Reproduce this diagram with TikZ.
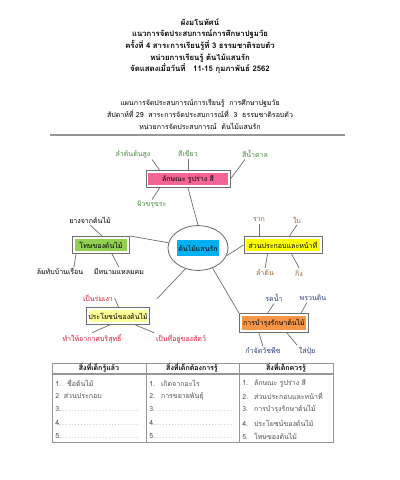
\documentclass[tikz,border=0pt]{standalone}
\usepackage{fontspec}
\setmainfont[Script=Thai]{Loma}
\usepackage{tikz}
\usetikzlibrary{shapes.geometric, positioning}
\definecolor{mypink}{RGB}{245,100,150}
\definecolor{mygreen}{RGB}{146,208,80}
\definecolor{myyellow}{RGB}{255,255,0}
\definecolor{mylight}{RGB}{255,255,153}
\definecolor{myorange}{RGB}{247,150,70}
\definecolor{myblue}{RGB}{0,176,240}
\definecolor{txtgreen}{RGB}{70,140,60}
\definecolor{txtbrown}{RGB}{150,100,50}
\definecolor{txtred}{RGB}{215,25,55}
\definecolor{txtnavy}{RGB}{40,60,120}
\definecolor{framegray}{RGB}{110,110,110}
\definecolor{tablegray}{RGB}{150,150,150}
\definecolor{celltext}{RGB}{80,80,80}
\newcommand\mapfont{\fontsize{5}{6}\selectfont}
\newcommand\celldots{{\color{tablegray}\dotfill}}
\tikzset{
  topicbox/.style={rectangle, draw=framegray, fill=white, line width=0.6pt,
    minimum height=0.43cm, inner sep=1pt, font=\mapfont,
    path picture={\fill[#1] ([shift={(1.6pt,1.6pt)}]path picture bounding box.south west)
      rectangle ([shift={(-1.6pt,-1.6pt)}]path picture bounding box.north east);}},
  leaf/.style={font=\mapfont, inner sep=1pt},
  twig/.style={draw=framegray, line width=0.5pt},
  heading/.style={align=center, font=\fontsize{5.5}{8.3}\selectfont\bfseries},
  subheading/.style={align=center, font=\fontsize{5}{8.5}\selectfont},
  cell/.style={anchor=west, font=\mapfont, text=celltext, inner sep=0pt,
    text width=2.1cm, align=left}
}

\begin{document}
\begin{tikzpicture}[x=0.025cm, y=-0.025cm]
  \useasboundingbox (0,0) rectangle (400,480);

  % heading
  \node[heading] (title) at (200,46) {ผังมโนทัศน์\\
    แนวการจัดประสบการณ์การศึกษาปฐมวัย\\
    ครั้งที่ 4 สาระการเรียนรู้ที่ 3 ธรรมชาติรอบตัว\\
    หน่วยการเรียนรู้  ต้นไม้แสนรัก\\
    จัดแสดงเมื่อวันที่ \ \ 11-15  กุมภาพันธ์ 2562};
  \node[subheading] (plan) at (200,114) {แผนการจัดประสบการณ์การเรียนรู้ \ การศึกษาปฐมวัย\\
    สัปดาห์ที่ 29 \ สาระการจัดประสบการณ์ที่ \ 3 \ ธรรมชาติรอบตัว\\
    หน่วยการจัดประสบการณ์ \ ต้นไม้แสนรัก};
  \draw[tablegray, line width=1pt] (50,135) -- (345,135);

  % centre
  \node[ellipse, draw=framegray, line width=0.6pt, minimum width=1.5cm,
    minimum height=1.12cm] (hub) at (198,248) {};
  \node[fill=myblue, minimum width=0.95cm, minimum height=0.42cm, inner sep=1pt,
    font=\mapfont] (hubtext) at (hub) {ต้นไม้แสนรัก};

  % topics
  \node[topicbox=mypink, minimum width=2.1cm] (charbox) at (188,179) {ลักษณะ รูปร่าง สี};
  \node[topicbox=mygreen, minimum width=1.43cm] (harmbox) at (101,245) {โทษของต้นไม้};
  \node[topicbox=myyellow, minimum width=1.95cm] (partbox) at (283,245) {ส่วนประกอบและหน้าที่};
  \node[topicbox=mylight, minimum width=1.53cm] (usebox) at (118,316) {ประโยชน์ของต้นไม้};
  \node[topicbox=myorange, minimum width=1.73cm, minimum height=0.48cm] (carebox) at (274,323) {การบำรุงรักษาต้นไม้};

  \draw[twig] (charbox.south) -- (hub.north);
  \draw[twig] (harmbox.north east) -- (hub);
  \draw[twig] (hub.-15) -- (partbox.west);
  \draw[twig] (hub.239) -- ([shift={(0.18cm,0.2cm)}]usebox.north east);
  \draw[twig] (hub.-54) -- (carebox.north west);

  % look
  \node[leaf, text=txtgreen] (lblstem) at (133,154) {ลำต้นต้นสูง};
  \node[leaf, text=txtgreen] (lblgreen) at (188,154) {สีเขียว};
  \node[leaf, text=txtgreen] (lblbrown) at (255,154) {สีน้ำตาล};
  \node[leaf, text=txtgreen] (lblrough) at (152,205) {ผิวขรุขระ};
  \draw[twig] (lblstem.south east) -- ([xshift=0.35cm]charbox.north west);
  \draw[twig] (lblgreen.south) -- (charbox.north);
  \draw[twig] ([xshift=-0.25cm]lblbrown.south) -- (charbox.east);
  \draw[twig] (lblrough.north) -- ([xshift=0.35cm]charbox.south west);

  % harm
  \node[leaf] (lblsap) at (90,220) {ยางจากต้นไม้};
  \node[leaf] (lblfall) at (60,272) {ล้มทับบ้านเรือน};
  \node[leaf] (lblthorn) at (119,272) {มีหนามแหลมคม};
  \draw[twig] (lblsap.south) -- ([xshift=0.75cm]harmbox.north west);
  \draw[twig] ([xshift=0.35cm]lblfall.north) -- ([xshift=0.1cm]harmbox.south west);
  \draw[twig] (lblthorn.north) -- ([xshift=1cm]harmbox.south west);

  % parts
  \node[leaf, text=txtbrown] (lblroot) at (259,220) {ราก};
  \node[leaf, text=txtbrown] (lblleaf) at (297,220) {ใบ};
  \node[leaf, text=txtbrown] (lbltrunk) at (265,273) {ลำต้น};
  \node[leaf, text=txtbrown] (lblbranch) at (299,273) {กิ่ง};
  \draw[twig] (lblroot.south) -- (lblroot.south |- partbox.north);
  \draw[twig] (lblleaf.south) -- ([xshift=1.15cm]partbox.north west);
  \draw[twig] (lbltrunk.north) -- ([xshift=0.6cm]partbox.south west);
  \draw[twig] (lblbranch.north) -- ([xshift=1.2cm]partbox.south west);

  % use
  \node[leaf, text=txtred] (lblshade) at (98,298) {เป็นร่มเงา};
  \node[leaf, text=txtred] (lblair) at (92,339) {ทำให้อากาศบริสุทธิ์};
  \node[leaf, text=txtred] (lblhome) at (181,339) {เป็นที่อยู่ของสัตว์};
  \draw[twig] (lblshade.east) -- ([xshift=0.8cm]usebox.north west);
  \draw[twig] (lblair.north) -- ([xshift=0.58cm]usebox.south west);
  \draw[twig] (lblhome.north west) -- ([xshift=-0.35cm]usebox.south east);

  % care
  \node[leaf, text=txtnavy] (lblwater) at (274,298) {รดน้ำ};
  \node[leaf, text=txtnavy] (lblsoil) at (313,298) {พรวนดิน};
  \node[leaf, text=txtnavy] (lblweed) at (263,351) {กำจัดวัชพืช};
  \node[leaf, text=txtnavy] (lblfert) at (307,351) {ใส่ปุ๋ย};
  \draw[twig] (lblwater.south) -- ([xshift=0.72cm]carebox.north west);
  \draw[twig] ([xshift=-0.15cm]lblsoil.south) -- ([xshift=-0.2cm]carebox.north east);
  \draw[twig] (lblweed.north) -- ([xshift=0.5cm]carebox.south west);
  \draw[twig] (lblfert.north west) -- ([xshift=1.2cm]carebox.south west);

  % table
  \draw[tablegray, line width=0.6pt] (52,363) rectangle (333,442);
  \draw[tablegray, line width=0.6pt] (146,363) -- (146,442) (239,363) -- (239,442);
  \draw[tablegray, line width=0.8pt] (52,374) -- (333,374);
  \node[font=\mapfont\bfseries] (headknow) at (99,368) {สิ่งที่เด็กรู้แล้ว};
  \node[font=\mapfont\bfseries] (headwant) at (192,368) {สิ่งที่เด็กต้องการรู้};
  \node[font=\mapfont\bfseries] (headshould) at (286,368) {สิ่งที่เด็กควรรู้};

  \node[cell] at (55,383) {1. \ ชื่อต้นไม้};
  \node[cell] at (55,396) {2 \ ส่วนประกอบ};
  \node[cell] at (149,383) {1. \ เกิดจากอะไร};
  \node[cell] at (149,396) {2. \ การขยายพันธุ์};
  \foreach \n/\y in {3/409, 4/423, 5/436} {
    \node[cell] at (55,\y) {\n.\celldots};
    \node[cell] at (149,\y) {\n.\celldots};
  }
  \foreach \n/\y/\t in {1/383/ลักษณะ รูปร่าง สี, 2/396/ส่วนประกอบและหน้าที่,
      3/409/การบำรุงรักษาต้นไม้, 4/423/ประโยชน์ของต้นไม้, 5/436/โทษของต้นไม้} {
    \node[cell] at (242,\y) {\n. \ \t};
  }
\end{tikzpicture}
\end{document}
